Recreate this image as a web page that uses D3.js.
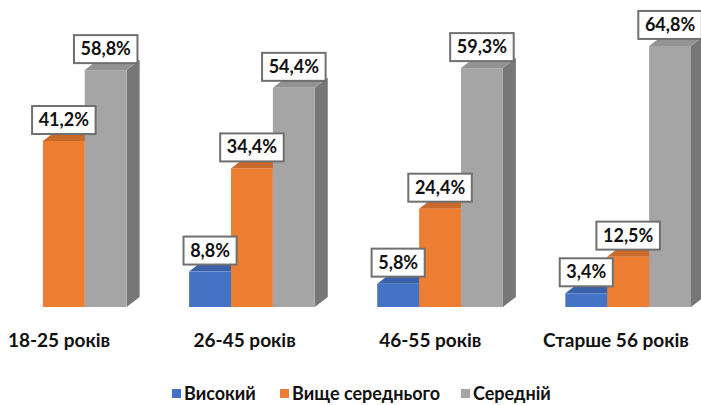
<!DOCTYPE html>
<html><head><meta charset="utf-8">
<script src="https://cdn.jsdelivr.net/npm/d3@7"></script>
<style>html,body{margin:0;padding:0;background:#fff;} svg{display:block;}</style>
</head><body>
<svg id="chart" width="701" height="405"></svg>
<script>
const categories = ["18-25 років", "26-45 років", "46-55 років", "Старше 56 років"];
const seriesNames = ["Високий", "Вище середнього", "Середній"];
const vysokyi = [0, 8.8, 5.8, 3.4];
const vyshcheSerednoho = [41.2, 34.4, 24.4, 12.5];
const serednii = [58.8, 54.4, 59.3, 64.8];
const seriesValues = [vysokyi, vyshcheSerednoho, serednii];
const frontColors = ["#4472C4", "#ED7D31", "#A5A5A5"];
const topColors = ["#3A62AA", "#C9692A", "#939393"];
const sideColors = ["#33579A", "#B35D25", "#777777"];

const svg = d3.select("#chart");
const FONT = "Lato, 'Noto Sans', sans-serif";
const dx = 13, dy = 10;

const x0 = d3.scaleBand().domain(categories).range([1, 691]).paddingInner(0.332).paddingOuter(0);
const x1 = d3.scaleBand().domain(seriesNames).range([0, x0.bandwidth()]).padding(0);
const y = d3.scaleLinear().domain([0, 70]).range([307, 25]);
const xLabel = d3.scalePoint().domain(categories).range([59, 616]);

const fmt = v => d3.format(".1f")(v).replace(".", ",") + "%";

const data = [];
categories.forEach((c, i) => {
  seriesNames.forEach((s, j) => {
    data.push({cat: c, ser: s, j, v: seriesValues[j][i]});
  });
});

const g = svg.append("g");
const bars = data.filter(d => d.v > 0);
bars.forEach(d => {
  const xl = x0(d.cat) + x1(d.ser), w = x1.bandwidth();
  const yt = y(d.v), yb = y(0);
  g.append("path").attr("fill", sideColors[d.j])
    .attr("d", `M${xl+w},${yb} L${xl+w+dx},${yb-dy} L${xl+w+dx},${yt-dy} L${xl+w},${yt} Z`);
  g.append("path").attr("fill", topColors[d.j])
    .attr("d", `M${xl},${yt} L${xl+dx},${yt-dy} L${xl+w+dx},${yt-dy} L${xl+w},${yt} Z`);
});
bars.forEach(d => {
  const xl = x0(d.cat) + x1(d.ser), w = x1.bandwidth();
  g.append("rect").attr("x", xl).attr("y", y(d.v)).attr("width", w).attr("height", y(0) - y(d.v))
    .attr("fill", frontColors[d.j]);
});

// data labels
const lg = svg.append("g");
bars.forEach(d => {
  const cx = x0(d.cat) + x1(d.ser) + x1.bandwidth() / 2;
  const bottom = y(d.v) - 7;
  const t = lg.append("text").attr("x", cx).attr("y", bottom - 8)
    .attr("text-anchor", "middle").attr("font-family", FONT).attr("font-weight", "bold")
    .attr("font-size", 18).attr("fill", "#111").text(fmt(d.v));
  const bb = t.node().getBBox();
  const bw = bb.width + 13, bh = 28;
  lg.insert("rect", () => t.node()).attr("x", cx - bw / 2).attr("y", bottom - bh)
    .attr("width", bw).attr("height", bh).attr("fill", "#fff").attr("stroke", "#707070").attr("stroke-width", 2);
});

// category labels
svg.append("g").selectAll("text").data(categories).join("text")
  .attr("x", d => xLabel(d)).attr("y", 347).attr("text-anchor", "middle")
  .attr("font-family", FONT).attr("font-weight", "bold").attr("font-size", 19).attr("fill", "#111")
  .text(d => d);

// legend
const legendX = [172, 280, 461];
const leg = svg.append("g");
seriesNames.forEach((s, j) => {
  leg.append("rect").attr("x", legendX[j]).attr("y", 389).attr("width", 9).attr("height", 9).attr("fill", frontColors[j]);
  leg.append("text").attr("x", legendX[j] + 12).attr("y", 400).attr("font-family", FONT).attr("font-weight", "bold")
    .attr("font-size", 18).attr("fill", "#111").text(s);
});
</script>
</body></html>
